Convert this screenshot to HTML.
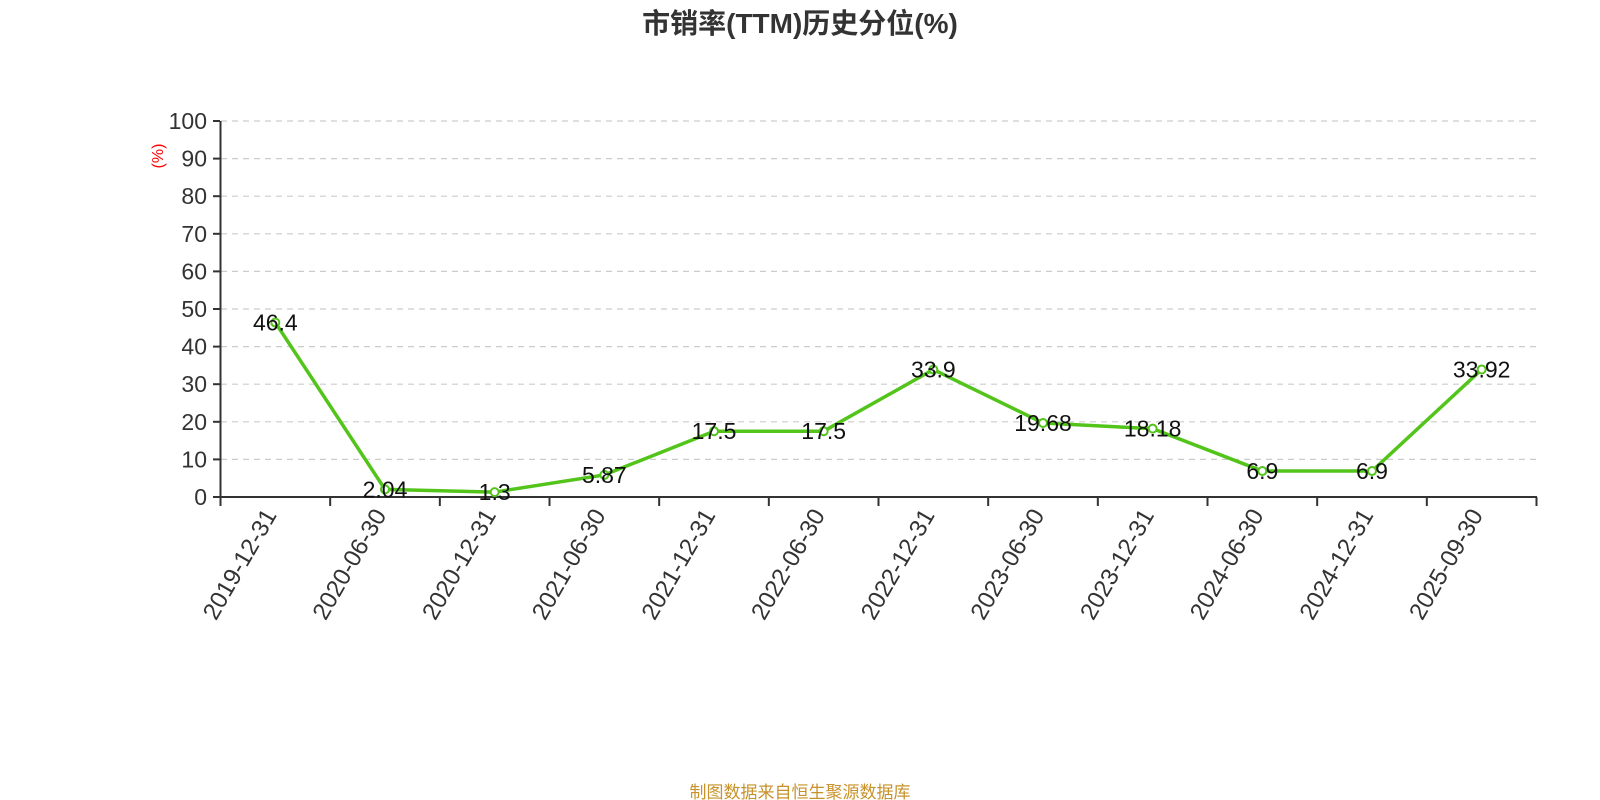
<!DOCTYPE html><html><head><meta charset="utf-8"><style>body{margin:0;background:#fff}svg{display:block}</style></head><body>
<svg width="1600" height="800" xmlns="http://www.w3.org/2000/svg" font-family="Liberation Sans, Noto Sans CJK SC, sans-serif">
<text x="800" y="33" text-anchor="middle" font-size="28" font-weight="bold" fill="#333">市销率(TTM)历史分位(%)</text>
<g id="grid" stroke="#ccc" stroke-dasharray="6,5" stroke-width="1.2">
<line x1="221" x2="1537" y1="121" y2="121"/><line x1="221" x2="1537" y1="158.6" y2="158.6"/><line x1="221" x2="1537" y1="196.2" y2="196.2"/><line x1="221" x2="1537" y1="233.8" y2="233.8"/><line x1="221" x2="1537" y1="271.4" y2="271.4"/><line x1="221" x2="1537" y1="309" y2="309"/><line x1="221" x2="1537" y1="346.6" y2="346.6"/><line x1="221" x2="1537" y1="384.2" y2="384.2"/><line x1="221" x2="1537" y1="421.8" y2="421.8"/><line x1="221" x2="1537" y1="459.4" y2="459.4"/>
</g>
<g stroke="#333" stroke-width="2">
<line x1="220.5" y1="121" x2="220.5" y2="497"/>
<line x1="220" y1="497" x2="1537" y2="497"/>
</g>
<g stroke="#333" stroke-width="2" id="yt"></g>
<g font-size="23" fill="#333" text-anchor="end" id="yl"></g>
<text transform="translate(163,156) rotate(-90)" text-anchor="middle" font-size="16" fill="red">(%)</text>
<g id="xt" stroke="#333" stroke-width="2"></g>
<g id="xl" font-size="24" fill="#333"></g>
<polyline id="ln" fill="none" stroke="#52c41a" stroke-width="3.5" stroke-linejoin="round"/>
<g id="pts"></g>
<g id="lb" font-size="23" fill="#111" text-anchor="middle"></g>
<text x="800" y="798" text-anchor="middle" font-size="17" fill="#c8922a">制图数据来自恒生聚源数据库</text>
<script>
var ns="http://www.w3.org/2000/svg";function el(p,t,a,txt){var e=document.createElementNS(ns,t);for(var k in a)e.setAttribute(k,a[k]);if(txt!=null)e.textContent=txt;document.getElementById(p).appendChild(e);}
function Y(v){return 497-v*3.76;}
for(var i=0;i<=10;i++){var y=Y(i*10);el("yt","line",{x1:213,x2:220,y1:y,y2:y});el("yl","text",{x:207,y:y+8},i*10);}
var d=["2019-12-31","2020-06-30","2020-12-31","2021-06-30","2021-12-31","2022-06-30","2022-12-31","2023-06-30","2023-12-31","2024-06-30","2024-12-31","2025-09-30"];
var v=[46.4,2.04,1.3,5.87,17.5,17.5,33.9,19.68,18.18,6.9,6.9,33.92];
var w=1316/12,pts=[];
for(var i=0;i<=12;i++){var x=220.5+i*w;el("xt","line",{x1:x,x2:x,y1:497,y2:506});}
for(var i=0;i<12;i++){var x=220.5+w/2+i*w;el("xl","text",{transform:"translate("+(x+2)+",515) rotate(-60)","text-anchor":"end"},d[i]);pts.push(x+","+Y(v[i]));}
document.getElementById("ln").setAttribute("points",pts.join(" "));
for(var i=0;i<12;i++){var x=220.5+w/2+i*w;el("pts","circle",{cx:x,cy:Y(v[i]),r:4,fill:"#fff",stroke:"#52c41a","stroke-width":2});el("lb","text",{x:x,y:Y(v[i])+8},v[i]);}
</script>
</svg></body></html>
